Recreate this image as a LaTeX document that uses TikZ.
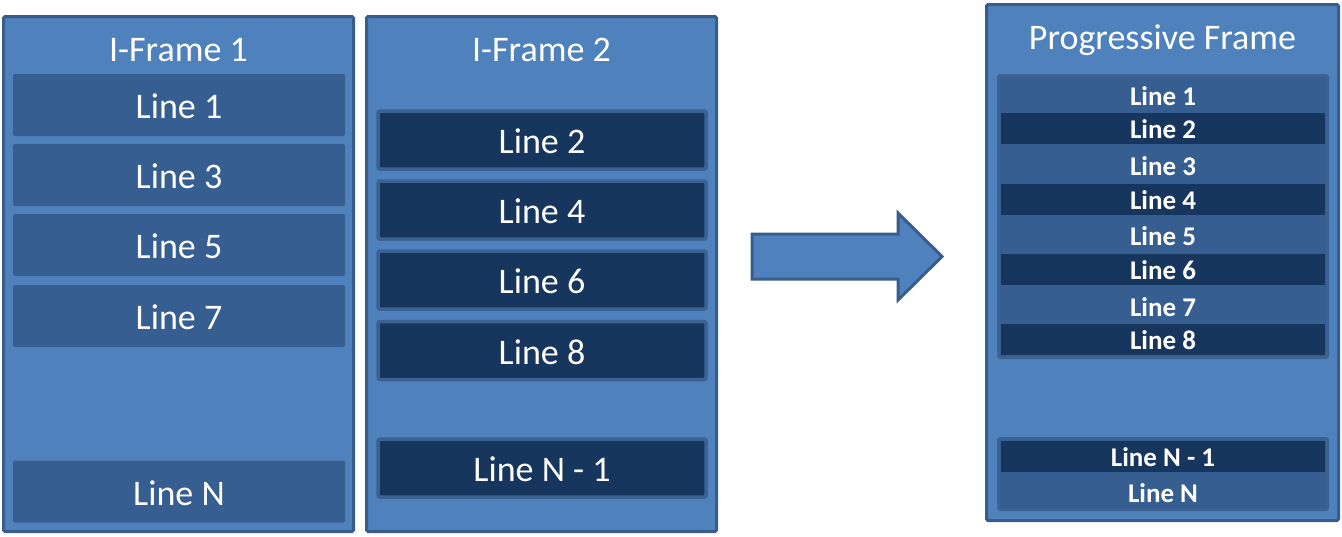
\documentclass[tikz,border=0pt]{standalone}
\usepackage{fontspec}
\setmainfont{Carlito}
\definecolor{pfill}{HTML}{4F81BD}
\definecolor{pborder}{HTML}{385D8A}
\definecolor{midblue}{HTML}{365E90}
\definecolor{darkblue}{HTML}{17365D}
\definecolor{dborder}{HTML}{3B6292}
\begin{document}
\begin{tikzpicture}[x=1pt,y=-1pt,
  panel/.style={draw=pborder, fill=pfill, line width=3pt, inner sep=0pt, rounded corners=1.5pt},
  title/.style={anchor=base, text=white, inner sep=0pt, font=\fontsize{36}{40}\selectfont},
  lbox/.style={fill=midblue, rounded corners=2pt, inner sep=0pt, minimum width=332pt, minimum height=62pt, text=white, text height=27pt, text depth=0pt, font=\fontsize{36}{40}\selectfont},
  dbox/.style={fill=darkblue, draw=dborder, line width=3.5pt, rounded corners=2pt, inner sep=0pt, minimum width=328pt, minimum height=58pt, text=white, text height=27pt, text depth=0pt, font=\fontsize{36}{40}\selectfont},
  group/.style={fill=midblue, draw=dborder, line width=3pt, rounded corners=2pt, inner sep=0pt, minimum width=329pt},
  prow/.style={inner sep=0pt, text=white, text height=20.5pt, text depth=0pt, font=\bfseries\fontsize{27}{30}\selectfont},
  pdark/.style={prow, fill=darkblue, minimum width=324pt, minimum height=31pt},
  bigarrow/.style={fill=pfill, draw=pborder, line width=3pt, line join=miter}
]
\useasboundingbox (0,0) rectangle (1342,536);

% panels
\node[panel, minimum width=350pt, minimum height=515pt] (p1) at (178.5,274) {};
\node[panel, minimum width=350pt, minimum height=515pt] (p2) at (541.5,274) {};
\node[panel, minimum width=352pt, minimum height=516pt] (p3) at (1162.5,262.5) {};

% titles
\node[title] (t1) at (178.5,61) {I-Frame 1};
\node[title] (t2) at (541.5,61) {I-Frame 2};
\node[title] (t3) at (1162.5,49) {Progressive Frame};

% I-Frame 1 lines
\node[lbox] (a1) at (179,105) {Line 1};
\node[lbox] (a3) at (179,175) {Line 3};
\node[lbox] (a5) at (179,245) {Line 5};
\node[lbox] (a7) at (179,316) {Line 7};
\node[lbox] (aN) at (179,491.5) {Line N};

% I-Frame 2 lines
\node[dbox] (b2) at (542,140) {Line 2};
\node[dbox] (b4) at (542,210) {Line 4};
\node[dbox] (b6) at (542,280) {Line 6};
\node[dbox] (b8) at (542,350.5) {Line 8};
\node[dbox] (bN1) at (542,468) {Line N - 1};

% arrow
\draw[bigarrow] (752,234) -- (898,234) -- (898,213) -- (942,256.5) -- (898,300) -- (898,279) -- (752,279) -- cycle;

% progressive frame
\node[group, minimum height=282pt] (g1) at (1163,216.5) {};
\node[prow] (c1) at (1163,95) {Line 1};
\node[pdark] (c2) at (1163,128.5) {Line 2};
\node[prow] (c3) at (1163,165) {Line 3};
\node[pdark] (c4) at (1163,199) {Line 4};
\node[prow] (c5) at (1163,235.5) {Line 5};
\node[pdark] (c6) at (1163,269.5) {Line 6};
\node[prow] (c7) at (1163,306) {Line 7};
\node[pdark] (c8) at (1163,339.5) {Line 8};

\node[group, minimum height=71pt] (g2) at (1163,474) {};
\node[pdark] (cN1) at (1163,456.5) {Line N - 1};
\node[prow] (cN) at (1163,492) {Line N};
\end{tikzpicture}
\end{document}
